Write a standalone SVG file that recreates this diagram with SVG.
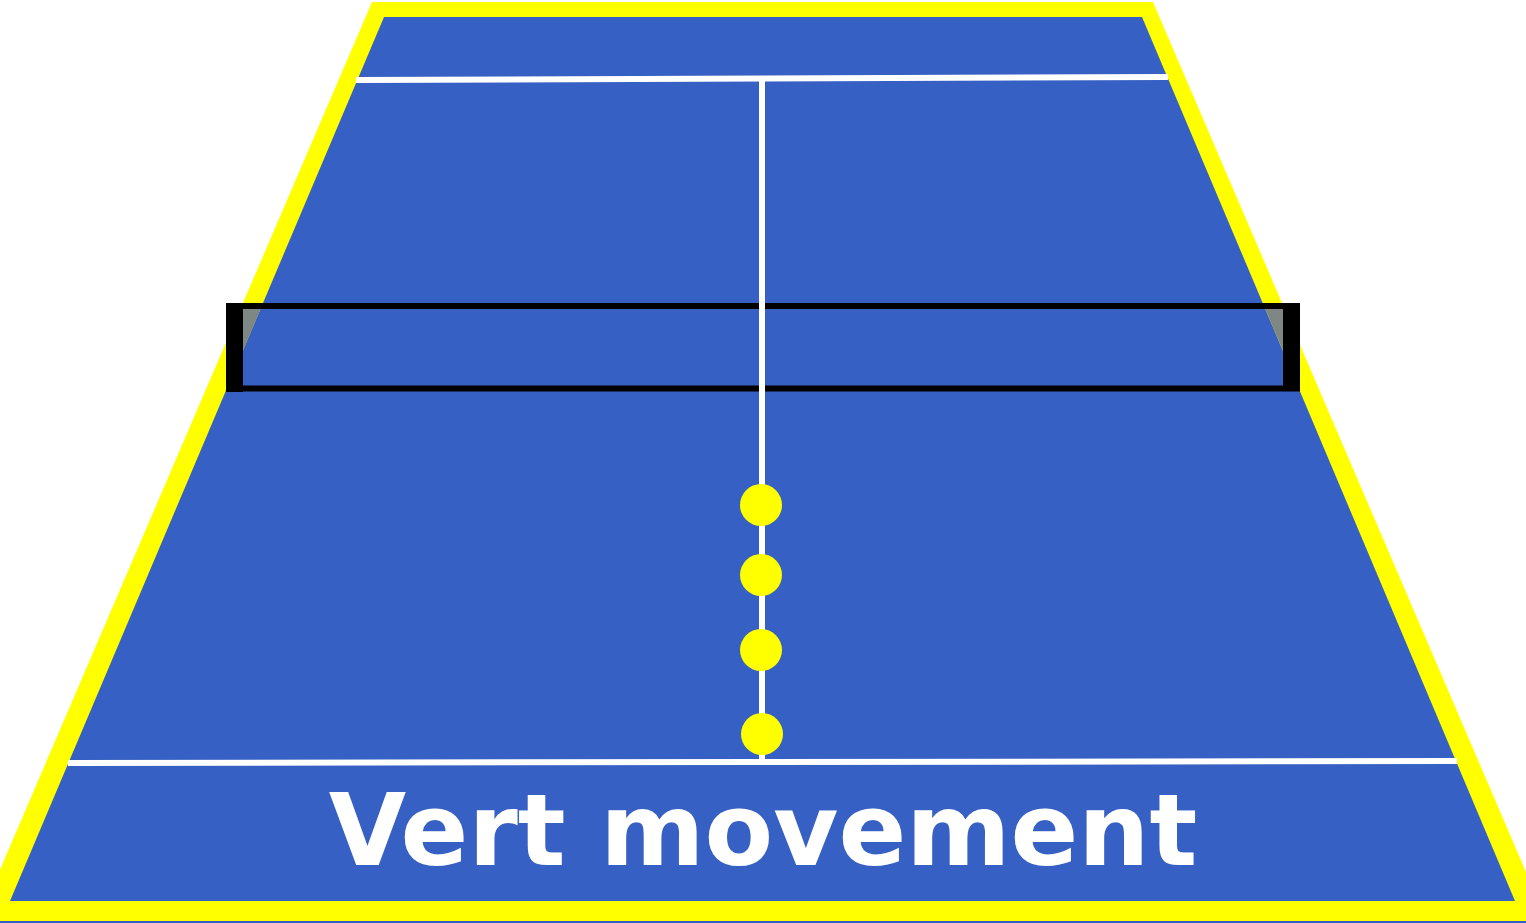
<svg xmlns="http://www.w3.org/2000/svg" width="1526" height="923" viewBox="0 0 1526 923">
<style>
.court{fill:#3660C3}
.border{fill:#FFFF00}
.line{stroke:#FFFFFF;stroke-width:6;fill:none}
.net{fill:#000000}
.post-gap{fill:#7F8785}
.ball{fill:#FFFF00}
.label{font-family:"DejaVu Sans",sans-serif;font-weight:bold;font-size:100px;fill:#FFFFFF;text-anchor:middle}
</style>
<rect width="1526" height="923" fill="#FFFFFF"/>
<g id="court">
<rect class="court" x="0" y="921" width="1526" height="2"/>
<polygon class="border" points="372,2 1153,2 1547,921 -22,921"/>
<polygon class="court" points="384,17 1142,17 1515,901 10,901"/>
</g>
<g id="lines">
<line class="line" x1="356" y1="80" x2="1168" y2="77"/>
<line class="line" x1="68" y1="763" x2="1457" y2="761"/>
</g>
<g id="net">
<polygon class="post-gap" points="243,309 260.5,309 243,350.5"/>
<polygon class="post-gap" points="1265.3,309 1283,309 1283,351"/>
<rect class="net" x="226" y="303" width="1074" height="6"/>
<rect class="net" x="226" y="385.5" width="1074" height="6"/>
<rect class="net" x="226" y="303" width="17" height="89"/>
<rect class="net" x="1283" y="304" width="17" height="87"/>
</g>
<g id="centerline">
<line class="line" x1="762" y1="78" x2="762" y2="762"/>
</g>
<g id="balls">
<circle class="ball" cx="761" cy="505" r="21"/>
<circle class="ball" cx="761" cy="575" r="21"/>
<circle class="ball" cx="761" cy="650" r="21"/>
<circle class="ball" cx="762" cy="734" r="21"/>
</g>
<g id="title">
<text class="label" x="763" y="865">Vert movement</text>
</g>
</svg>
